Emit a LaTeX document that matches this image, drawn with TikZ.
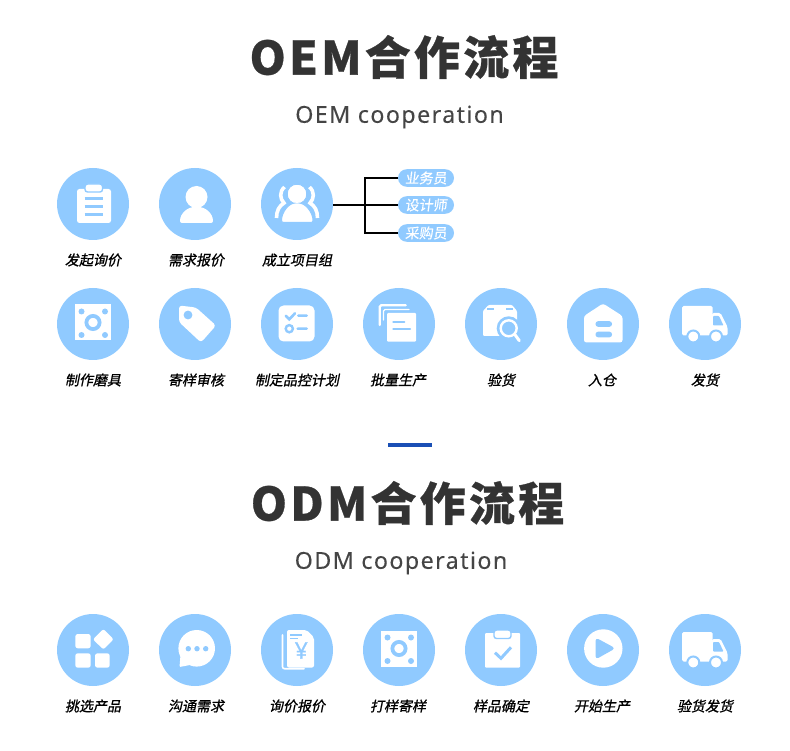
\documentclass[tikz,border=0pt]{standalone}
\usepackage{fontspec}
\usepackage{tikz}
\newfontfamily\titlefont[LetterSpace=7,FakeBold=0.6]{Noto Sans CJK SC}
\newfontfamily\subtitlefont[LetterSpace=6,FakeBold=0.15]{Noto Sans}
\newfontfamily\labelfont[FakeSlant=0.2,FakeBold=0.9]{Noto Sans CJK SC}
\newfontfamily\pillfont[FakeSlant=0.12,FakeBold=0.35]{Noto Sans CJK SC}
\newfontfamily\yenfont[FakeBold=0.6]{Noto Sans}
\definecolor{circleblue}{HTML}{90CAFF}
\definecolor{barblue}{HTML}{1A4FB5}
\definecolor{titlegray}{HTML}{333333}
\definecolor{subgray}{HTML}{454545}
\tikzset{
  stepcircle/.style={circle,fill=circleblue,minimum size=72pt,inner sep=0pt},
  steplabel/.style={font=\labelfont\fontsize{14}{16}\selectfont,text=black},
  rolepill/.style={rounded corners=8.8pt,fill=circleblue,minimum width=56pt,minimum height=17.6pt,
    inner sep=0pt,text=white,font=\pillfont\fontsize{14}{16}\selectfont},
  titletext/.style={font=\titlefont\bfseries\fontsize{46}{50}\selectfont,text=titlegray},
  subtitletext/.style={font=\subtitlefont\fontsize{23.3}{28}\selectfont,text=subgray},
  iconwhite/.style={fill=white,draw=none},
  iconblue/.style={fill=circleblue,draw=none},
  iconline/.style={draw=circleblue,line width=3pt,line cap=round},
  iconstroke/.style={draw=white,line width=2.4pt,line cap=round},
  % icons, all drawn around the centre of their circle
  plateicon/.pic={
    \fill[iconwhite] (-18,-19.5) rectangle (18,16.5);
    \fill[iconblue] (-11.5,-12.5) circle[radius=3] (12,-12.5) circle[radius=3]
      (-11.5,11) circle[radius=3] (12,11) circle[radius=3];
    \draw[circleblue,line width=3.8pt] (0,-1.5) circle[radius=6.6];
  },
  truckicon/.pic={
    \fill[iconwhite,rounded corners=1.5pt] (-23,-18) rectangle (7.5,11.5);
    \fill[iconwhite,rounded corners=1.5pt] (7,-11) -- (15.5,-11) -- (22.5,3) -- (22.5,11.5) -- (7,11.5) -- cycle;
    \fill[iconblue,rounded corners=.8pt] (8,-8) -- (14,-8) -- (18.5,1.5) -- (8,1.5) -- cycle;
    \draw[iconwhite,draw=circleblue,line width=2pt] (-11.7,12.5) circle[radius=6];
    \draw[iconwhite,draw=circleblue,line width=2pt] (11,12.5) circle[radius=6];
  },
}
\begin{document}
\begin{tikzpicture}[x=1pt,y=-1pt]
  \useasboundingbox (0,0) rectangle (790,751);
  % 1. Titles
  \node[titletext] (oemtitle) at (404,57) {OEM合作流程};
  \node[subtitletext] (oemsub) at (399.5,117) {OEM cooperation};
  \fill[barblue] (388,443) rectangle (432,447);
  \node[titletext] (odmtitle) at (407.5,503) {ODM合作流程};
  \node[subtitletext] (odmsub) at (401,563) {ODM cooperation};
  % 2. Circles of the OEM rows
  \node[stepcircle] (oemA) at (93,204) {};
  \node[stepcircle] (oemB) at (195,204) {};
  \node[stepcircle] (oemC) at (297,204) {};
  \node[stepcircle] (oemD) at (93,324) {};
  \node[stepcircle] (oemE) at (195,324) {};
  \node[stepcircle] (oemF) at (297,324) {};
  \node[stepcircle] (oemG) at (399,324) {};
  \node[stepcircle] (oemH) at (501,324) {};
  \node[stepcircle] (oemI) at (603,324) {};
  \node[stepcircle] (oemJ) at (705,324) {};
  % circles of the ODM row
  \node[stepcircle] (odmA) at (93,650) {};
  \node[stepcircle] (odmB) at (195,650) {};
  \node[stepcircle] (odmC) at (297,650) {};
  \node[stepcircle] (odmD) at (399,650) {};
  \node[stepcircle] (odmE) at (501,650) {};
  \node[stepcircle] (odmF) at (603,650) {};
  \node[stepcircle] (odmG) at (705,650) {};
  % 3. Labels under the circles
  \node[steplabel] (oemAtext) at (93,260) {发起询价};
  \node[steplabel] (oemBtext) at (196,260) {需求报价};
  \node[steplabel] (oemCtext) at (297,260) {成立项目组};
  \node[steplabel] (oemDtext) at (93,380) {制作磨具};
  \node[steplabel] (oemEtext) at (196,380) {寄样审核};
  \node[steplabel] (oemFtext) at (297,380) {制定品控计划};
  \node[steplabel] (oemGtext) at (398,380) {批量生产};
  \node[steplabel] (oemHtext) at (501,380) {验货};
  \node[steplabel] (oemItext) at (602,380) {入仓};
  \node[steplabel] (oemJtext) at (705,380) {发货};
  \node[steplabel] (odmAtext) at (93,706) {挑选产品};
  \node[steplabel] (odmBtext) at (196,706) {沟通需求};
  \node[steplabel] (odmCtext) at (297,706) {询价报价};
  \node[steplabel] (odmDtext) at (398,706) {打样寄样};
  \node[steplabel] (odmEtext) at (501,706) {样品确定};
  \node[steplabel] (odmFtext) at (602,706) {开始生产};
  \node[steplabel] (odmGtext) at (705,706) {验货发货};
  % 4. The three roles and the connector
  \node[rolepill] (roleA) at (426,178) {业务员};
  \node[rolepill] (roleB) at (426,205) {设计师};
  \node[rolepill] (roleC) at (426,233) {采购员};
  \coordinate (branch) at (365,205);
  \draw[line width=2pt] (oemC.east |- branch) -- (roleB.west);
  \draw[line width=2pt] (branch) |- (roleA.west);
  \draw[line width=2pt] (branch) |- (roleC.west);
  % 5. Icons, OEM first row
  % clipboard
  \begin{scope}[shift={(oemA)}]
    \fill[iconwhite,rounded corners=2.5pt] (-16,-15) rectangle (18,19);
    \fill[iconwhite,draw=circleblue,line width=1.4pt,rounded corners=2.5pt] (-8,-20) rectangle (9.5,-12);
    \draw[iconline,line cap=butt] (-8.5,-5) -- (10,-5) (-8.5,3) -- (10,3) (-8.5,11) -- (10,11);
  \end{scope}
  % person
  \begin{scope}[shift={(oemB)}]
    \fill[iconwhite] (1.5,-7) circle[radius=11];
    \fill[iconwhite,rounded corners=2pt] (-15,19) .. controls (-15,9) and (-7,3) .. (1.5,3)
      .. controls (10,3) and (18,9) .. (18,19) -- cycle;
  \end{scope}
  % group of three
  \begin{scope}[shift={(oemC)}]
    \draw[iconstroke,line width=3.6pt,line cap=butt] (-12.5,-17) .. controls (-18,-12) and (-17,-5) .. (-13,-1)
      .. controls (-18,2) and (-20.5,7) .. (-20.5,14);
    \draw[iconstroke,line width=3.6pt,line cap=butt] (12.5,-17) .. controls (18,-12) and (17,-5) .. (13,-1)
      .. controls (18,2) and (20.5,7) .. (20.5,14);
    \fill[iconwhite,draw=circleblue,line width=1pt] (0,-10) circle[radius=9.8];
    \fill[iconwhite,draw=circleblue,line width=1pt,rounded corners=2pt] (-15.5,18.5) .. controls (-15.5,8) and (-8,-1) .. (0,-1)
      .. controls (8,-1) and (16,8) .. (16,18.5) -- cycle;
    \fill[iconwhite] (0,-10) circle[radius=9];
  \end{scope}
  % 6. Icons, OEM second row
  \pic at (oemD) {plateicon};
  % tag
  \begin{scope}[shift={(oemE)}]
    \fill[iconwhite,rounded corners=3pt] (-16,-18.5) -- (1,-16.5) -- (21,1.5) -- (6,18.5) -- (-16,-2) -- cycle;
    \fill[iconblue] (-7,-9) circle[radius=4.4];
  \end{scope}
  % checklist
  \begin{scope}[shift={(oemF)}]
    \fill[iconwhite,rounded corners=5pt] (-18.5,-18.5) rectangle (17.5,17.5);
    \draw[iconline,line width=2.6pt] (-11.3,-8.3) -- (-7.7,-4.7) -- (-2,-10.7) (1.3,-8.3) -- (9.7,-8.3) (0.7,4.7) -- (9.7,4.7);
    \draw[circleblue,line width=2.4pt] (-7.7,4.7) circle[radius=3.6];
  \end{scope}
  % stacked pages
  \begin{scope}[shift={(oemG)}]
    \draw[iconstroke,rounded corners=1.5pt] (-19.3,1) -- (-19.3,-18.7) -- (6.7,-18.7);
    \draw[iconstroke,line width=1.4pt,rounded corners=1.5pt] (-15.5,-4) -- (-15.5,-14.5) -- (10,-14.5);
    \fill[iconwhite,rounded corners=1pt] (-12,-11) rectangle (17,17.7);
    \draw[iconline,line width=2.2pt] (-5.7,-2.3) -- (5.3,-2.3) (-5.7,5.3) -- (11,5.3);
  \end{scope}
  % box and magnifier
  \begin{scope}[shift={(oemH)}]
    \fill[iconwhite,rounded corners=1pt] (-18,-13) -- (-12.5,-19) -- (11,-19) -- (16,-13) -- (16,12) -- (-18,12) -- cycle;
    \draw[iconline,line width=1.5pt,line cap=butt] (-14,-15) -- (-7,-15) (5,-15) -- (12,-15);
    \fill[iconblue] (7.7,4.3) circle[radius=12];
    \draw[white,line width=3pt,line cap=round] (13.5,10) -- (18.3,16.7);
    \draw[white,line width=2.4pt] (7.7,4.3) circle[radius=8];
  \end{scope}
  % storehouse
  \begin{scope}[shift={(oemI)}]
    \fill[iconwhite,rounded corners=2.5pt] (0,-20.5) -- (19.5,-8) -- (19.5,18.5) -- (-19,18.5) -- (-19,-8) -- cycle;
    \fill[iconblue,rounded corners=2.6pt] (-7.5,-2.8) rectangle (9,2.8) (-7.5,7.7) rectangle (9,13.3);
  \end{scope}
  \pic at (oemJ) {truckicon};
  % 7. Icons, ODM row
  % four blocks
  \begin{scope}[shift={(odmA)}]
    \fill[iconwhite,rounded corners=2.5pt] (-17.7,-16) rectangle (-2.3,-1.7);
    \fill[iconwhite,rounded corners=2.5pt] (-17.7,3.3) rectangle (-2.3,17.7);
    \fill[iconwhite,rounded corners=2.5pt] (2,3.3) rectangle (16.7,17.7);
    \fill[iconwhite,rounded corners=2pt] (10.3,-21) -- (20.6,-10.7) -- (10.3,-0.5) -- (0,-10.7) -- cycle;
  \end{scope}
  % speech bubble
  \begin{scope}[shift={(odmB)}]
    \fill[iconwhite] (1.7,-1.7) circle[radius=18.3];
    \fill[iconwhite,rounded corners=1pt] (-14.5,5) -- (-15.5,17) -- (-5,15) -- cycle;
    \fill[iconblue] (-6.7,-1.3) circle[radius=2.7] (2,-1.3) circle[radius=2.7] (10.7,-1.3) circle[radius=2.7];
  \end{scope}
  % quotation page
  \begin{scope}[shift={(odmC)}]
    \draw[iconstroke,line width=1.6pt,rounded corners=2pt] (-14.5,-15) -- (-14.5,18.7) -- (7,18.7);
    \fill[iconwhite,rounded corners=2pt] (-10,-20) -- (9.5,-20) -- (17,-12.5) -- (17,17.5) -- (-10,17.5) -- cycle;
    \draw[iconline,line width=1.5pt,line cap=butt] (-6.7,-15) -- (5.3,-15) (-6.7,-11.3) -- (1,-11.3);
    \node[text=circleblue,inner sep=0pt,font=\yenfont\bfseries\fontsize{23}{25}\selectfont] (yensign) at (4.3,0.5) {¥};
  \end{scope}
  \pic at (odmD) {plateicon};
  % clipboard with tick
  \begin{scope}[shift={(odmE)}]
    \fill[iconwhite,rounded corners=1pt] (-16,-17) rectangle (19,17.7);
    \fill[iconwhite,draw=circleblue,line width=1.4pt,rounded corners=2.5pt] (-7,-20) rectangle (10,-11.5);
    \draw[iconline,line cap=butt] (-6,2.7) -- (0,8.3) -- (10,-2.7);
  \end{scope}
  % play button
  \begin{scope}[shift={(odmF)}]
    \fill[iconwhite] (0.3,-1.5) circle[radius=19.2];
    \fill[iconblue,rounded corners=3.5pt] (-7.5,-12.5) -- (12.5,-1.7) -- (-7.5,9.5) -- cycle;
  \end{scope}
  \pic at (odmG) {truckicon};
\end{tikzpicture}
\end{document}
